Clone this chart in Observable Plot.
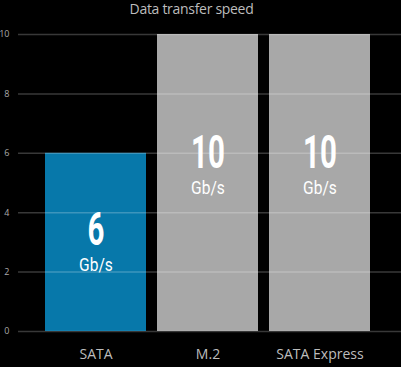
<!DOCTYPE html>
<html>
<head>
<meta charset="utf-8">
<script src="https://cdn.jsdelivr.net/npm/d3@7"></script>
<script src="https://cdn.jsdelivr.net/npm/@observablehq/plot@0.6"></script>
<style>
  html, body { margin: 0; padding: 0; background: #000; }
  #title { height: 18px; line-height: 18px; text-align: center; color: #bdbdbd;
    font-family: "Open Sans", sans-serif; font-size: 14px; width: 383px; letter-spacing: -0.3px; }
</style>
</head>
<body>
<div id="title">Data transfer speed</div>
<div id="chart"></div>
<script>
const categories = ["SATA", "M.2", "SATA Express"];
const speeds = [6, 10, 10];
const unit = "Gb/s";
const barColors = ["#0778aa", "#a8a8a8", "#a8a8a8"];
const yTicks = [0, 2, 4, 6, 8, 10];

const data = categories.map((c, i) => ({cat: c, v: speeds[i], color: barColors[i], lab: 0.655 * speeds[i] - 1.03}));
const font = 'Roboto, sans-serif';

const chart = Plot.plot({
  width: 401,
  height: 349,
  marginTop: 16,
  marginBottom: 36,
  marginLeft: 18,
  marginRight: 0,
  style: {background: "#000", color: "#bdbdbd", fontFamily: '"Open Sans", sans-serif'},
  x: {domain: categories, range: [44, 370], paddingInner: 0.1, paddingOuter: 0, label: null},
  y: {domain: [0, 10], label: null},
  marks: [
    Plot.barY(data, {x: "cat", y: "v", fill: "color"}),
    Plot.gridY(yTicks, {stroke: "#fff", strokeOpacity: 0.22, strokeWidth: 1.5}),
    Plot.axisY(yTicks, {tickSize: 0, tickPadding: 9, fontSize: 9, fill: "#aaa", label: null}),
    Plot.axisX({tickSize: 0, tickPadding: 18, fontSize: 14, fill: "#bdbdbd", label: null}),
    Plot.text(data, {x: "cat", y: "lab", text: d => String(d.v), fill: "#fff", fontSize: 46, fontWeight: "bold", lineAnchor: "bottom", fontFamily: font, className: "squeeze-num"}),
    Plot.text(data, {x: "cat", y: "lab", text: () => unit, fill: "#fff", fontSize: 19, dy: 26, lineAnchor: "bottom", fontFamily: font, className: "squeeze-unit"})
  ]
});
function squeeze(sel, k) {
  chart.querySelectorAll(sel + " text").forEach(t => {
    const tr = t.getAttribute("transform") || "";
    t.setAttribute("transform", tr + ` scale(${k},1)`);
  });
}
squeeze(".squeeze-num", 0.64);
squeeze(".squeeze-unit", 0.82);
document.getElementById("chart").appendChild(chart);
</script>
</body>
</html>
